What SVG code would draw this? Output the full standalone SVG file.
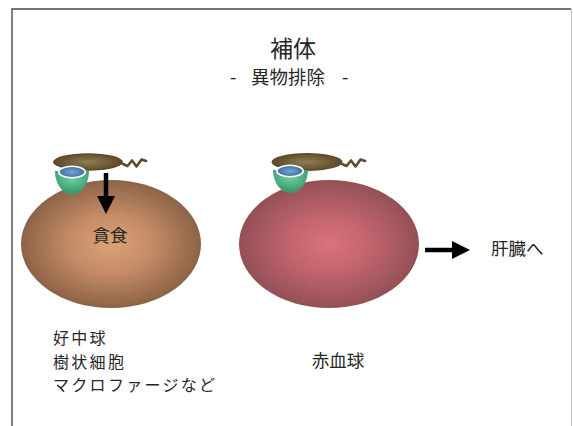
<svg xmlns="http://www.w3.org/2000/svg" width="573" height="426" viewBox="0 0 573 426">
  <style>
    text { font-family: "Noto Sans CJK JP", "Noto Sans CJK SC", sans-serif; fill: #262626; }
    .title { font-size: 23px; }
    .sub { font-size: 18.5px; }
    .label { font-size: 17.5px; }
    .list { font-size: 16px; letter-spacing: 2.3px; }
    .wave { fill: none; stroke: #5e4b2b; stroke-width: 2.6; stroke-linejoin: round; stroke-linecap: round; }
    .arrow { stroke: #000; stroke-width: 4.5; fill: none; }
    .blue { fill: url(#gBlue); stroke: #ffffff; stroke-width: 1.6; }
  </style>
  <defs>
    <radialGradient id="gPhago" cx="0.5" cy="0.5" r="0.5">
      <stop offset="0" stop-color="#dba279"/>
      <stop offset="0.45" stop-color="#c68c66"/>
      <stop offset="1" stop-color="#8c6347"/>
    </radialGradient>
    <radialGradient id="gRbc" cx="0.5" cy="0.5" r="0.5">
      <stop offset="0" stop-color="#da737e"/>
      <stop offset="0.45" stop-color="#c2646e"/>
      <stop offset="1" stop-color="#935056"/>
    </radialGradient>
    <radialGradient id="gBody" cx="0.5" cy="0.5" r="0.5">
      <stop offset="0" stop-color="#907e55"/>
      <stop offset="1" stop-color="#5b4727"/>
    </radialGradient>
    <radialGradient id="gCup" cx="0.5" cy="0.3" r="0.6">
      <stop offset="0" stop-color="#72d2a2"/>
      <stop offset="1" stop-color="#3b9a70"/>
    </radialGradient>
    <radialGradient id="gBlue" cx="0.5" cy="0.5" r="0.5">
      <stop offset="0" stop-color="#72a8d6"/>
      <stop offset="1" stop-color="#3e6c9e"/>
    </radialGradient>
    <marker id="head" viewBox="0 0 10 10" refX="0" refY="5" markerWidth="4" markerHeight="4.4" orient="auto" markerUnits="strokeWidth">
      <path d="M0,0 L10,5 L0,10 Z" fill="#000"/>
    </marker>
  </defs>

  <!-- frame -->
  <path d="M12,426 L12,9 L571,9" fill="none" stroke="#4a4a4a" stroke-width="1.4"/>
  <path d="M571.5,9 L571.5,426" fill="none" stroke="#c4c4c4" stroke-width="1"/>

  <!-- heading -->
  <g id="heading">
    <text class="title" x="293" y="57" text-anchor="middle">補体</text>
    <text class="sub" y="84">
      <tspan x="230">-</tspan>
      <tspan x="251">異物排除</tspan>
      <tspan x="342">-</tspan>
    </text>
  </g>

  <!-- phagocyte -->
  <g id="phagocyte">
    <ellipse cx="111" cy="244" rx="90" ry="64" fill="url(#gPhago)"/>
    <text class="label" x="110" y="242" text-anchor="middle">貪食</text>
  </g>
  <g id="complement-left">
    <ellipse cx="88" cy="162" rx="35" ry="8.7" fill="url(#gBody)"/>
    <path class="wave" d="M123,164 L127.5,166 L132,160.5 L136.5,166.5 L141.5,159.5 L146,161"/>
    <path d="M55,171 A17,23.5 0 0 0 89,171 Z" fill="url(#gCup)"/>
    <ellipse class="blue" cx="72" cy="172" rx="13.2" ry="5.8"/>
  </g>

  <!-- red blood cell -->
  <g id="erythrocyte">
    <ellipse cx="329" cy="244" rx="90" ry="64" fill="url(#gRbc)"/>
  </g>
  <g id="complement-right">
    <ellipse cx="307" cy="162" rx="35.5" ry="9" fill="url(#gBody)"/>
    <path class="wave" d="M342,164 L346.5,166 L351,160.5 L355.5,166.5 L360.5,159.5 L365,161"/>
    <path d="M273,170 A17.5,23 0 0 0 308,170 Z" fill="url(#gCup)"/>
    <ellipse class="blue" cx="290" cy="171" rx="13.2" ry="5.8"/>
  </g>

  <!-- cell labels -->
  <g id="phagocyte-names">
    <text class="list" x="53" y="344">好中球</text>
    <text class="list" x="53" y="367.5">樹状細胞</text>
    <text class="list" x="53" y="391">マクロファージなど</text>
  </g>
  <g id="rbc-name">
    <text class="label" x="338" y="367" text-anchor="middle">赤血球</text>
  </g>
  <g id="liver">
    <text class="label" x="491" y="255">肝臓へ</text>
  </g>

  <!-- connectors -->
  <g id="connectors">
    <path class="arrow" d="M106,173 L106,196" marker-end="url(#head)"/>
    <path class="arrow" d="M425,250 L452,250" marker-end="url(#head)"/>
  </g>
</svg>
